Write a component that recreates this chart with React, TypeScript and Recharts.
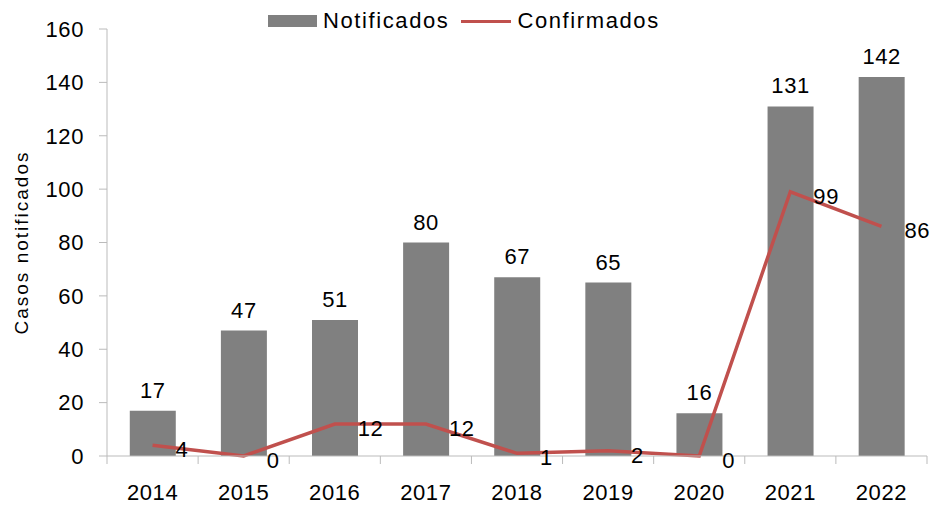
import { ComposedChart, Bar, Line, XAxis, YAxis, Legend, LabelList } from 'recharts';

const years = ['2014', '2015', '2016', '2017', '2018', '2019', '2020', '2021', '2022'];
const notificados = [17, 47, 51, 80, 67, 65, 16, 131, 142];
const confirmados = [4, 0, 12, 12, 1, 2, 0, 99, 86];
const yTicks = [0, 20, 40, 60, 80, 100, 120, 140, 160];

const FONT = '"Liberation Sans", Arial, sans-serif';
const AXIS = '#BBBBBB';
const GRAY = '#808080';
const RED = '#C0504D';

const data = years.map((y, i) => ({ year: y, notificados: notificados[i], confirmados: confirmados[i] }));

const XTick = (props: any) => {
  const { x, y, payload, index, visibleTicksCount } = props;
  const off = payload.offset ?? 0;
  return (
    <g>
      <line x1={x - off} x2={x - off} y1={y} y2={y + 8} stroke={AXIS} />
      {index === visibleTicksCount - 1 && <line x1={x + off} x2={x + off} y1={y} y2={y + 8} stroke={AXIS} />}
      <text x={x} y={y + 44} textAnchor="middle" fontSize={22} letterSpacing={0.6} fill="#000" fontFamily={FONT}>
        {payload.value}
      </text>
    </g>
  );
};

const LineLabel = (props: any) => {
  const { x, y, value } = props;
  return (
    <text x={x + 23} y={y + 12} fontSize={22} letterSpacing={0.6} fill="#000" fontFamily={FONT}>
      {value}
    </text>
  );
};

const LegendBox = () => (
  <div style={{ display: 'flex', alignItems: 'center', fontFamily: FONT, fontSize: 22, letterSpacing: 1.6, color: '#000' }}>
    <span style={{ width: 49, height: 12, background: GRAY, display: 'inline-block', marginRight: 6 }} />
    <span>Notificados</span>
    <span style={{ width: 50, height: 3, background: RED, display: 'inline-block', margin: '0 6px 0 12px' }} />
    <span>Confirmados</span>
  </div>
);

const YLabel = (props: any) => {
  const { viewBox } = props;
  const cx = 21;
  const cy = viewBox.y + viewBox.height / 2;
  return (
    <text x={cx} y={cy} transform={`rotate(-90 ${cx} ${cy})`} textAnchor="middle" dominantBaseline="central" fontSize={19} letterSpacing={2} fill="#000" fontFamily={FONT}>
      Casos notificados
    </text>
  );
};

export default function App() {
  return (
    <div style={{ position: 'absolute', left: 0, top: 0 }}>
      <ComposedChart width={930} height={506} data={data} margin={{ top: 29, right: 3, left: 0, bottom: 0 }} barCategoryGap="25%">
        <XAxis dataKey="year" height={50} tickSize={0} tickMargin={0} tick={<XTick />} axisLine={{ stroke: AXIS }} tickLine={false} interval={0} />
        <YAxis
          width={107}
          domain={[0, 160]}
          ticks={yTicks}
          tickSize={8}
          tickMargin={15}
          axisLine={{ stroke: AXIS }}
          tickLine={{ stroke: AXIS }}
          tick={{ fill: '#000', fontSize: 22, fontFamily: FONT, letterSpacing: 0.6 }}
          label={<YLabel />}
        />
        <Legend layout="horizontal" verticalAlign="middle" align="center" wrapperStyle={{ top: 8, left: 268, width: 'auto' }} content={<LegendBox />} />
        <Bar dataKey="notificados" name="Notificados" fill={GRAY} isAnimationActive={false}>
          <LabelList dataKey="notificados" position="top" offset={13} fill="#000" fontSize={22} fontFamily={FONT} letterSpacing={0.6} />
        </Bar>
        <Line dataKey="confirmados" name="Confirmados" stroke={RED} strokeWidth={3.5} dot={false} isAnimationActive={false}>
          <LabelList dataKey="confirmados" content={<LineLabel />} />
        </Line>
      </ComposedChart>
    </div>
  );
}
